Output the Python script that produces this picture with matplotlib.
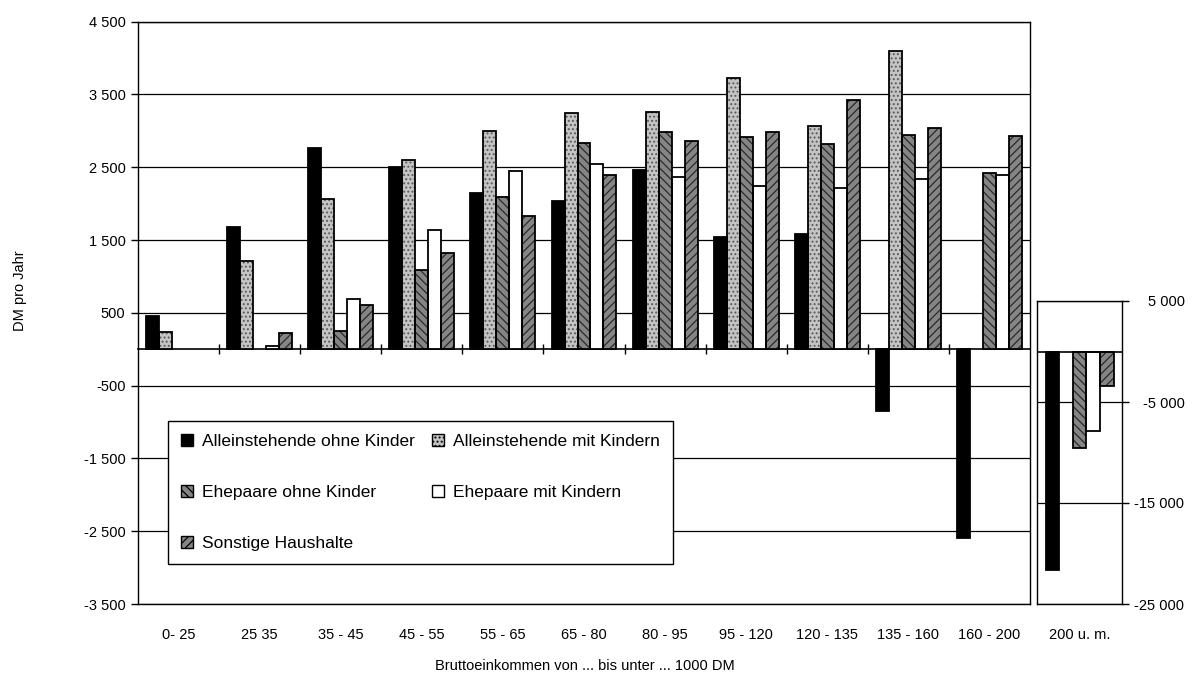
import numpy as np
import matplotlib
matplotlib.use("Agg")
import matplotlib.pyplot as plt
from matplotlib.patches import Patch

plt.rcParams['font.family'] = ['Liberation Sans', 'DejaVu Sans']
plt.rcParams['hatch.linewidth'] = 0.9

# ---------------- data ----------------
categories = ["0- 25", "25 35", "35 - 45", "45 - 55", "55 - 65", "65 - 80",
              "80 - 95", "95 - 120", "120 - 135", "135 - 160", "160 - 200"]
extra_category = ["200 u. m."]
series_names = ["Alleinstehende ohne Kinder", "Alleinstehende mit Kindern",
                "Ehepaare ohne Kinder", "Ehepaare mit Kindern", "Sonstige Haushalte"]

allein_ohne = [460, 1680, 2760, 2500, 2140, 2040, 2460, 1540, 1580, -845, -2590]
allein_mit = [240, 1215, 2060, 2605, 3000, 3245, 3260, 3720, 3065, 4095, np.nan]
ehe_ohne = [np.nan, np.nan, 250, 1090, 2090, 2840, 2985, 2915, 2820, 2940, 2415]
ehe_mit = [np.nan, 40, 690, 1635, 2450, 2550, 2365, 2245, 2210, 2340, 2390]
sonstige = [np.nan, 220, 605, 1320, 1835, 2390, 2865, 2990, 3430, 3045, 2930]

# group "200 u. m." (own scale), in series order
extra_group = [-21650, np.nan, -9540, -7830, -3390]

main_ticks = [-3500, -2500, -1500, -500, 500, 1500, 2500, 3500, 4500]
extra_ticks = [-25000, -15000, -5000, 5000]

# ---------------- styles ----------------
styles = [
    dict(face='black', hatch=None, hcol='black'),
    dict(face='#c4c4c4', hatch='....', hcol='#5a5a5a'),
    dict(face='#858585', hatch='\\\\\\\\', hcol='#2a2a2a'),
    dict(face='white', hatch=None, hcol='white'),
    dict(face='#858585', hatch='////', hcol='#2a2a2a'),
]
W = 0.16
EDGE_LW = 1.3


def draw_bars(ax, x, h, st):
    x = np.asarray(x, dtype=float)
    h = np.asarray(h, dtype=float)
    ok = ~np.isnan(h)
    ax.bar(x[ok], h[ok], W, color=st['face'], edgecolor=st['hcol'],
           hatch=st['hatch'], linewidth=0, zorder=3)
    ax.bar(x[ok], h[ok], W, fill=False, edgecolor='black',
           linewidth=EDGE_LW, zorder=4)


def fmt(v):
    return f"{v:,}".replace(",", " ")


fig = plt.figure(figsize=(12.03, 6.76), dpi=100)
H = 676.0
FW = 1203.0
ax = fig.add_axes([138 / FW, 1 - 604 / H, (1030 - 138) / FW, (604 - 21.7) / H])
ax2 = fig.add_axes([1037 / FW, 1 - 604 / H, (1122 - 1037) / FW, (604 - 301) / H])

series = [allein_ohne, allein_mit, ehe_ohne, ehe_mit, sonstige]
xs = np.arange(len(categories))
offsets = (np.arange(5) - 2) * W
for s, st, off in zip(series, styles, offsets):
    draw_bars(ax, xs + off, s, st)

for i, st in enumerate(styles):
    draw_bars(ax2, [offsets[i]], [extra_group[i]], st)

# main axes
ax.set_xlim(-0.5, len(categories) - 0.5)
ax.set_ylim(-3500, 4500)
ax.set_yticks(main_ticks)
ax.set_yticklabels([fmt(v) for v in main_ticks], fontsize=10.5)
ax.set_xticks(xs)
ax.set_xticklabels(categories, fontsize=10.5)
ax.tick_params(axis='x', length=0, pad=17)
ax.tick_params(axis='y', direction='out', length=5, width=1, pad=4)
ax.yaxis.grid(True, color='black', linewidth=0.9)
ax.set_axisbelow(True)
for sp in ax.spines.values():
    sp.set_linewidth(1.0)

# zero line with crossing category ticks
zero_frac = 3500 / 8000
sec = ax.secondary_xaxis(zero_frac)
sec.set_xticks(np.arange(len(categories) - 1) + 0.5)
sec.tick_params(direction='inout', length=7, width=1, labelbottom=False)
sec.spines['bottom'].set_linewidth(1.2)

# extra axes
ax2.set_xlim(-0.5, 0.5)
ax2.set_ylim(-25000, 5000)
ax2.set_yticks(extra_ticks)
ax2.set_yticklabels([fmt(v) for v in extra_ticks], fontsize=10.5, ha='right')
ax2.yaxis.tick_right()
ax2.tick_params(axis='y', direction='out', length=5, width=1, pad=40)
ax2.set_xticks([0])
ax2.set_xticklabels(extra_category, fontsize=10.5)
ax2.tick_params(axis='x', length=0, pad=17)
ax2.yaxis.grid(True, color='black', linewidth=0.9)
ax2.set_axisbelow(True)
ax2.axhline(0, color='black', linewidth=1.2, zorder=5)
for sp in ax2.spines.values():
    sp.set_linewidth(1.0)

# labels
fig.text(20 / FW, 1 - 291 / H, "DM pro Jahr", rotation=90, ha='center', va='center', fontsize=10.5)
fig.text(585 / FW, 1 - 666 / H, "Bruttoeinkommen von ... bis unter ... 1000 DM",
         ha='center', va='center', fontsize=10.5)

# legend
handles = [Patch(facecolor=st['face'], edgecolor='black', hatch=st['hatch'], linewidth=1.0)
           for st in styles]
order = [0, 2, 4, 1, 3]
leg = fig.legend([handles[i] for i in order], [series_names[i] for i in order],
                 ncol=2, loc='upper left', bbox_to_anchor=(168 / FW, 1 - 421 / H),
                 bbox_transform=fig.transFigure, fontsize=12.5, frameon=True,
                 fancybox=False, framealpha=1, edgecolor='black', borderaxespad=0,
                 borderpad=0.75, labelspacing=2.05, handlelength=0.7, handleheight=0.7,
                 handletextpad=0.5, columnspacing=1.0)
leg.get_frame().set_linewidth(1.0)

fig.savefig("out.png", dpi=100)
